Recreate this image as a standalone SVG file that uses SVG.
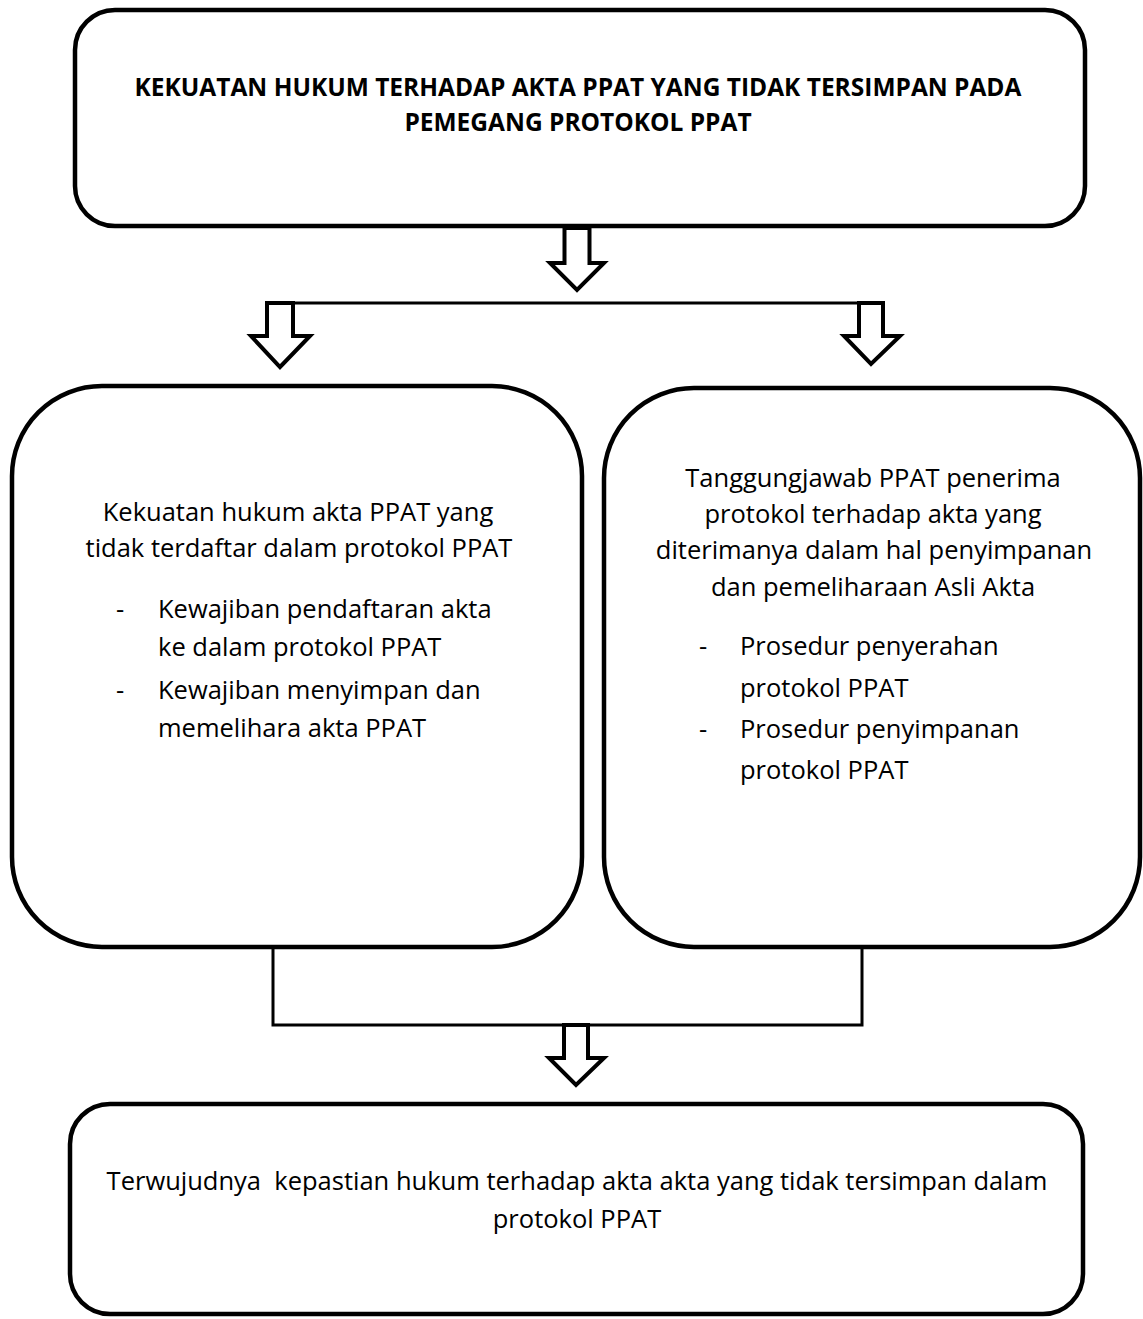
<svg xmlns="http://www.w3.org/2000/svg" width="1143" height="1319" viewBox="0 0 1143 1319">
<style>
.box{fill:#fff;stroke:#000;stroke-width:4.5}
.arr{fill:#fff;stroke:#000;stroke-width:4;stroke-linejoin:miter}
.ln{fill:none;stroke:#000;stroke-width:3}
text{font-family:"Open Sans","Liberation Sans",sans-serif;font-size:25.5px;fill:#000}
.t{font-weight:bold;font-size:24.5px}
.c{text-anchor:middle}
</style>
<rect width="1143" height="1319" fill="#fff"/>
<g id="connectors">
<line class="ln" x1="293" y1="303" x2="859" y2="303"/>
<polyline class="ln" points="273,947 273,1025 862,1025 862,947"/>
<polygon id="arrow-top" class="arr" points="564.5,228 589.5,228 589.5,263 604,263 577,290 550,263 564.5,263"/>
<polygon id="arrow-left" class="arr" points="267,303 293,303 293,336 310,336 280,367 251,336 267,336"/>
<polygon id="arrow-right" class="arr" points="859,303 883,303 883,336 900,336 871,364 844,336 859,336"/>
<polygon id="arrow-bottom" class="arr" points="564,1025 588,1025 588,1058 604,1058 576,1085 549,1058 564,1058"/>
</g>
<g id="node-top">
<rect class="box" x="75" y="10" width="1010" height="216" rx="40"/>
<text class="t c" x="578" y="96">KEKUATAN HUKUM TERHADAP AKTA PPAT YANG TIDAK TERSIMPAN PADA</text>
<text class="t c" x="578" y="131">PEMEGANG PROTOKOL PPAT</text>
</g>
<g id="node-left">
<rect class="box" x="12" y="386" width="570" height="561" rx="90"/>
<text class="c" x="298" y="521">Kekuatan hukum akta PPAT yang</text>
<text class="c" x="299" y="557">tidak terdaftar dalam protokol PPAT</text>
<text x="116" y="618">-</text>
<text x="158" y="618">Kewajiban pendaftaran akta</text>
<text x="158" y="656">ke dalam protokol PPAT</text>
<text x="116" y="699">-</text>
<text x="158" y="699">Kewajiban menyimpan dan</text>
<text x="158" y="737">memelihara akta PPAT</text>
</g>
<g id="node-right">
<rect class="box" x="604" y="388" width="536" height="559" rx="90"/>
<text class="c" x="873" y="487">Tanggungjawab PPAT penerima</text>
<text class="c" x="873" y="523">protokol terhadap akta yang</text>
<text class="c" x="874" y="559">diterimanya dalam hal penyimpanan</text>
<text class="c" x="873" y="596">dan pemeliharaan Asli Akta</text>
<text x="699" y="655">-</text>
<text x="740" y="655">Prosedur penyerahan</text>
<text x="740" y="697">protokol PPAT</text>
<text x="699" y="738">-</text>
<text x="740" y="738">Prosedur penyimpanan</text>
<text x="740" y="779">protokol PPAT</text>
</g>
<g id="node-bottom">
<rect class="box" x="70" y="1104" width="1013" height="210" rx="40"/>
<text class="c" x="577" y="1190" xml:space="preserve">Terwujudnya  kepastian hukum terhadap akta akta yang tidak tersimpan dalam</text>
<text class="c" x="577" y="1228">protokol PPAT</text>
</g>
</svg>
